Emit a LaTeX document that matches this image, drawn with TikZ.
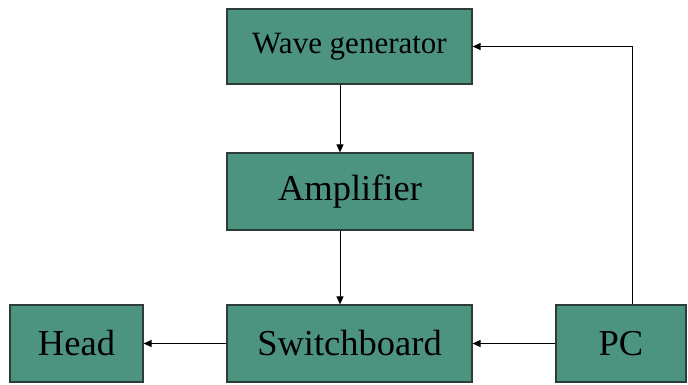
\documentclass[tikz,border=0pt]{standalone}
\usepackage{fontspec}
\setmainfont{Liberation Serif}
\usetikzlibrary{arrows.meta}
\definecolor{boxgreen}{RGB}{76,148,128}
\definecolor{boxline}{RGB}{45,60,55}
\tikzset{
  block/.style={draw=boxline, line width=1.2pt, fill=boxgreen, minimum height=77pt, inner sep=0pt, font=\fontsize{36.5}{40}\selectfont},
  conn/.style={line width=0.9pt, -{Triangle[length=8pt,width=7pt]}}
}
\begin{document}
\begin{tikzpicture}[x=1pt,y=1pt]
    \useasboundingbox (0,0) rectangle (688,384);
    \node [block, minimum width=245pt, minimum height=75pt, font=\fontsize{31}{34}\selectfont] (wave) at (349.5,337.5) {Wave generator};
    \node [block, minimum width=246pt] (amp) at (350,192.5) {Amplifier};
    \node [block, minimum width=133pt] (head) at (76.5,40.5) {Head};
    \node [block, minimum width=245pt] (switch) at (349.5,40.5) {Switchboard};
    \node [block, minimum width=130pt] (pc) at (621,40.5) {PC};
    
    \draw [conn] (wave.south -| 340,0) -- (amp.north -| 340,0);
    \draw [conn] (amp.south -| 340,0) -- (switch.north -| 340,0);
    \draw [conn] (switch) -- (head);
    \draw [conn] (pc) -- (switch);
    \draw [conn] (pc.north -| 632,0) |- (wave.east);
\end{tikzpicture}
\end{document}
